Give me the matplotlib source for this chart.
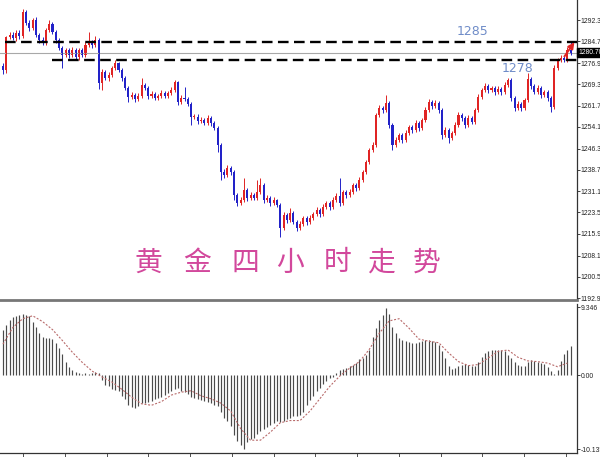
import numpy as np
import matplotlib
matplotlib.use("Agg")
import matplotlib.pyplot as plt

# gold 4h candles (close per bar, open = previous close)
first_open = 1276.0
closes = [
    1274.4, 1286.2, 1287.0, 1285.9, 1287.8, 1286.5, 1295.2, 1291.2, 1289.4, 1292.3,
    1286.9, 1285.2, 1284.1, 1288.7, 1290.9, 1288.0, 1285.2, 1282.3, 1279.8, 1281.6,
    1279.8, 1281.6, 1279.1, 1281.6, 1279.8, 1283.4, 1284.5, 1283.4, 1285.2, 1269.8,
    1273.7, 1271.6, 1272.6, 1275.1, 1276.9, 1274.4, 1271.6, 1268.0, 1264.8, 1265.5,
    1264.1, 1265.1, 1269.1, 1268.0, 1265.1, 1265.9, 1264.4, 1265.1, 1266.2, 1265.1,
    1266.2, 1267.3, 1270.0, 1263.0, 1264.4, 1264.1, 1262.3, 1257.6, 1257.8, 1256.2,
    1256.6, 1255.5, 1257.3, 1255.5, 1253.7, 1247.6, 1238.0, 1236.9, 1239.4, 1238.0,
    1229.7, 1226.9, 1227.9, 1231.5, 1228.7, 1229.7, 1228.7, 1230.8, 1233.3, 1227.9,
    1228.7, 1226.9, 1227.9, 1226.2, 1217.9, 1222.6, 1220.8, 1223.3, 1220.1, 1217.9,
    1219.4, 1221.5, 1220.1, 1221.5, 1222.9, 1224.4, 1222.9, 1225.4, 1226.9, 1225.4,
    1227.9, 1229.4, 1226.9, 1230.8, 1229.7, 1230.8, 1233.3, 1232.2, 1235.1, 1238.0,
    1241.5, 1245.8, 1247.6, 1258.3, 1260.8, 1260.1, 1262.6, 1254.8, 1247.6, 1249.4,
    1251.2, 1249.4, 1251.9, 1254.1, 1253.0, 1255.5, 1253.7, 1256.6, 1260.1, 1263.0,
    1261.6, 1262.6, 1260.1, 1251.2, 1253.0, 1250.1, 1251.9, 1254.8, 1258.3, 1257.3,
    1254.8, 1257.3, 1255.8, 1260.1, 1264.8, 1267.3, 1268.7, 1267.3, 1268.0, 1266.6,
    1267.6, 1266.6, 1269.1, 1270.9, 1264.4, 1260.8, 1262.3, 1260.8, 1263.7, 1271.3,
    1268.7, 1266.6, 1268.0, 1265.5, 1266.6, 1264.4, 1261.2, 1275.1, 1278.0, 1278.7,
    1278.0, 1281.6, 1280.7,
]
upper_wick = [
    0.8, 0.5, 1.0, 1.2, 0.8, 1.0, 1.1, 0.8, 1.0, 0.8,
    1.0, 0.8, 1.2, 0.8, 1.5, 0.8, 0.6, 0.8, 0.6, 0.8,
    0.8, 1.0, 0.6, 0.8, 0.8, 1.0, 3.5, 0.8, 1.5, 0.6,
    1.0, 0.8, 1.0, 0.8, 1.2, 0.6, 0.8, 0.6, 0.8, 1.0,
    0.8, 1.0, 2.5, 0.8, 0.6, 1.0, 0.8, 0.8, 1.0, 0.6,
    0.8, 1.0, 0.8, 0.6, 1.0, 4.0, 0.8, 0.6, 1.0, 0.8,
    1.0, 0.8, 1.1, 0.6, 0.8, 0.6, 0.8, 1.0, 1.2, 0.8,
    0.6, 0.8, 1.0, 4.3, 0.8, 1.0, 0.8, 4.3, 2.5, 0.6,
    1.0, 0.8, 1.0, 0.6, 0.8, 1.2, 0.8, 1.8, 0.6, 0.8,
    1.0, 0.8, 0.8, 1.0, 0.8, 1.2, 0.6, 1.0, 0.8, 0.6,
    1.0, 1.0, 6.5, 0.8, 0.6, 1.0, 0.8, 0.8, 1.0, 0.8,
    0.8, 0.6, 1.0, 0.8, 1.2, 0.8, 2.9, 0.6, 0.8, 1.0,
    0.8, 0.6, 1.0, 0.8, 0.8, 1.0, 0.6, 0.8, 1.0, 1.2,
    0.8, 1.0, 0.6, 0.8, 1.0, 0.6, 0.8, 1.0, 1.2, 0.8,
    0.6, 1.0, 0.8, 0.8, 1.0, 0.8, 1.0, 0.6, 0.8, 0.6,
    1.0, 0.8, 1.0, 0.8, 0.6, 0.8, 1.0, 0.6, 0.8, 2.2,
    0.8, 0.6, 1.0, 0.6, 0.8, 0.6, 0.8, 1.0, 0.8, 1.0,
    0.8, 1.2, 2.9,
]
lower_wick = [
    1.5, 1.0, 0.8, 0.6, 1.0, 0.8, 0.6, 0.8, 1.0, 0.6,
    0.8, 1.0, 0.8, 0.6, 0.8, 0.8, 1.0, 0.8, 4.7, 0.8,
    1.0, 0.8, 0.8, 1.0, 0.6, 0.8, 0.8, 1.0, 0.8, 2.0,
    2.5, 0.8, 1.0, 0.8, 0.6, 0.8, 1.0, 0.8, 1.8, 0.8,
    1.0, 0.8, 0.6, 0.8, 1.0, 0.8, 0.6, 0.8, 0.6, 0.8,
    0.6, 0.8, 0.6, 1.0, 0.8, 0.6, 0.8, 2.8, 0.8, 1.0,
    0.8, 0.6, 0.8, 1.0, 0.8, 2.5, 2.8, 1.0, 0.8, 1.0,
    1.8, 1.0, 0.8, 0.6, 1.0, 0.8, 0.8, 0.6, 0.8, 1.0,
    0.8, 1.0, 0.6, 0.8, 3.2, 0.8, 1.0, 0.8, 0.8, 1.0,
    0.8, 0.6, 1.0, 0.8, 0.6, 0.8, 1.0, 0.6, 0.8, 1.0,
    0.8, 0.6, 1.0, 0.8, 1.0, 0.6, 0.8, 1.0, 0.6, 0.8,
    0.6, 0.8, 0.6, 0.8, 0.8, 1.0, 0.8, 1.0, 1.8, 0.8,
    0.8, 1.0, 0.6, 0.8, 1.0, 0.8, 1.0, 0.6, 0.8, 0.6,
    1.0, 0.8, 1.0, 1.5, 0.8, 1.8, 0.8, 0.6, 0.8, 1.0,
    1.0, 0.8, 0.8, 0.6, 0.8, 0.6, 0.8, 1.0, 0.8, 1.0,
    0.8, 1.0, 0.6, 0.8, 1.0, 1.0, 0.8, 1.0, 0.6, 0.8,
    1.0, 0.8, 0.8, 1.0, 0.8, 1.0, 1.8, 0.8, 0.8, 0.6,
    0.8, 0.8, 0.8,
]

# MACD histogram, one per candle
macd = [
    6.2, 7.0, 7.6, 8.0, 8.2, 8.3, 8.4, 8.3, 8.2, 7.4,
    6.6, 5.8, 5.3, 5.1, 5.1, 5.0, 4.4, 3.8, 2.9, 1.9,
    1.2, 0.7, 0.5, 0.4, 0.2, 0.3, 0.2, 0.4, 0.5, 0.3,
    -0.6, -1.3, -1.5, -1.8, -2.0, -2.2, -2.8, -3.2, -4.0, -4.4,
    -4.5, -4.2, -3.8, -3.8, -3.6, -3.5, -3.3, -3.1, -2.9, -2.7,
    -2.4, -2.1, -1.8, -1.7, -2.1, -2.3, -2.5, -2.9, -3.1, -3.3,
    -3.4, -3.5, -3.6, -3.8, -4.0, -4.2, -5.0, -5.8, -6.3, -7.0,
    -8.2, -9.0, -9.6, -10.1, -9.2, -8.8, -8.6, -8.0, -7.6, -7.3,
    -7.1, -6.8, -6.6, -6.3, -6.4, -6.2, -6.0, -5.8, -5.6, -5.6,
    -5.5, -5.0, -4.1, -3.4, -2.8, -2.1, -1.7, -1.2, -0.8, -0.4,
    -0.2, 0.35, 0.8, 0.9, 1.0, 1.3, 1.5, 1.7, 2.2, 2.4,
    2.8, 3.5, 5.3, 6.5, 7.6, 8.3, 9.3, 8.5, 6.7, 5.8,
    5.1, 4.9, 4.7, 4.6, 4.4, 4.4, 4.6, 4.8, 4.9, 4.9,
    4.7, 4.6, 4.2, 3.3, 2.4, 1.3, 0.9, 1.0, 1.3, 1.5,
    1.6, 1.4, 1.3, 1.3, 1.9, 2.5, 3.1, 3.4, 3.5, 3.5,
    3.5, 3.5, 3.4, 2.8, 2.4, 1.9, 1.4, 1.3, 1.3, 1.9,
    2.1, 2.0, 1.9, 1.7, 1.6, 1.1, 0.6, 0.2, 0.8, 2.0,
    2.9, 3.5, 4.0,
]
# signal line read every 3rd bar
signal = [
    4.3, 6.6, 7.8, 8.2, 7.4, 6.3, 4.8, 3.2, 1.8, 0.6,
    -0.2, -0.9, -1.9, -3.0, -3.9, -4.1, -3.6, -2.7, -2.3, -2.1,
    -2.8, -3.2, -3.8, -4.9, -7.3, -8.9, -8.9, -7.8, -6.5, -6.2,
    -6.2, -4.9, -3.2, -1.5, -0.1, 1.0, 1.9, 3.6, 5.8, 7.5,
    7.8, 6.5, 5.0, 4.7, 4.5, 3.1, 1.9, 1.35, 1.5, 2.4,
    3.3, 3.5, 2.5, 2.0, 1.9, 1.7, 1.2, 1.7,
]

price_ticks = [1192.90, 1200.50, 1208.10, 1215.90, 1223.50, 1231.10, 1238.70,
               1246.30, 1254.10, 1261.70, 1269.30, 1276.90, 1284.70, 1292.30]
last_price = 1280.70
level_hi = 1284.3
level_lo = 1278.0
title_chars = ["黄", "金", "四", "小", "时", "走", "势"]

RED = "#e02424"
BLUE = "#2222c8"
AXFONT = ["Liberation Sans", "DejaVu Sans"]

n = len(closes)
idx = np.arange(n)
closes = np.array(closes)
opens = np.concatenate([[first_open], closes[:-1]])
highs = np.maximum(opens, closes) + np.array(upper_wick)
lows = np.minimum(opens, closes) - np.array(lower_wick)
colors = [RED if c >= o else BLUE for o, c in zip(opens, closes)]

fig = plt.figure(figsize=(6, 4.57), dpi=100)
ax = fig.add_axes([0, 1 - 300 / 457, 577 / 600, 300 / 457])
ax2 = fig.add_axes([0, 4 / 457, 577 / 600, 149 / 457])

# price panel
ax.vlines(idx, lows, highs, colors=colors, lw=0.7)
body = np.abs(closes - opens)
body = np.where(body < 0.4, 0.4, body)
ax.bar(idx, body, bottom=np.minimum(opens, closes), width=0.62, color=colors, lw=0)

ax.axhline(last_price, color="#a8a8a8", lw=0.8, zorder=1)
ax.hlines(level_hi, 0.6, 176, colors="black", lw=1.7, linestyles=(0, (4.5, 2.3)), zorder=5)
ax.hlines(level_lo, 14.8, 176, colors="black", lw=1.7, linestyles=(0, (4.5, 2.3)), zorder=5)
ax.text(142.4, level_hi + 1.5, "1285", color="#6f8cc8", fontsize=9, ha="center", va="bottom")
ax.text(156.0, level_lo - 0.7, "1278", color="#6f8cc8", fontsize=9, ha="center", va="top")
ax.annotate("", xy=(173.6, 1285.2), xytext=(169.6, 1278.5),
            arrowprops=dict(arrowstyle="-|>", color=RED, lw=1.4, mutation_scale=9),
            annotation_clip=False, zorder=6)

char_x = [0.258, 0.341, 0.425, 0.503, 0.586, 0.660, 0.740]
for cx, ch in zip(char_x, title_chars):
    ax.text(cx, 0.125, ch, transform=ax.transAxes, fontsize=20, color="#d2489c",
            ha="center", va="center", fontweight="light",
            family=["Noto Sans CJK SC", "DejaVu Sans"])

ax.set_xlim(-0.9, 173.9)
ax.set_ylim(1192.2, 1299.5)
ax.yaxis.tick_right()
ax.set_yticks(price_ticks)
ax.set_yticklabels([f"{v:.2f}" for v in price_ticks], family=AXFONT)
ax.set_xticks([])
for s in ["left", "top"]:
    ax.spines[s].set_visible(False)
ax.spines["right"].set_color("#333333")
ax.spines["right"].set_linewidth(0.9)
ax.spines["bottom"].set_color("#777777")
ax.spines["bottom"].set_linewidth(2.0)
ax.tick_params(axis="y", direction="out", length=2.0, width=0.6, pad=0.8,
               labelsize=4.9, colors="#222222")
ax.text(1.003, last_price, f"{last_price:.2f}", transform=ax.get_yaxis_transform(),
        fontsize=4.9, color="white", va="center", ha="left", clip_on=False,
        family=AXFONT, bbox=dict(boxstyle="square,pad=0.2", fc="black", ec="black"))

# MACD panel
ax2.vlines(idx, 0, macd, colors="#4a4a4a", lw=0.85)
ax2.plot(np.arange(0, n, 3), signal, color="#b86a6a", lw=0.8, ls=(0, (1.8, 1.5)))
ax2.set_xlim(-0.9, 173.9)
ax2.set_ylim(-10.66, 9.82)
ax2.yaxis.tick_right()
ax2.set_yticks([9.346, 0, -10.135])
ax2.set_yticklabels(["9.346", "0.00", "-10.135"], family=AXFONT)
ax2.set_xticks(np.arange(6.1, 173, 12.65))
ax2.set_xticklabels([])
for s in ["left", "top"]:
    ax2.spines[s].set_visible(False)
ax2.spines["right"].set_color("#333333")
ax2.spines["right"].set_linewidth(0.9)
ax2.spines["bottom"].set_color("#333333")
ax2.spines["bottom"].set_linewidth(0.9)
ax2.tick_params(axis="y", direction="out", length=2.0, width=0.6, pad=0.8,
                labelsize=4.9, colors="#222222")
ax2.tick_params(axis="x", direction="out", length=3, width=0.6, colors="#333333")

fig.savefig("out.png", dpi=100)
